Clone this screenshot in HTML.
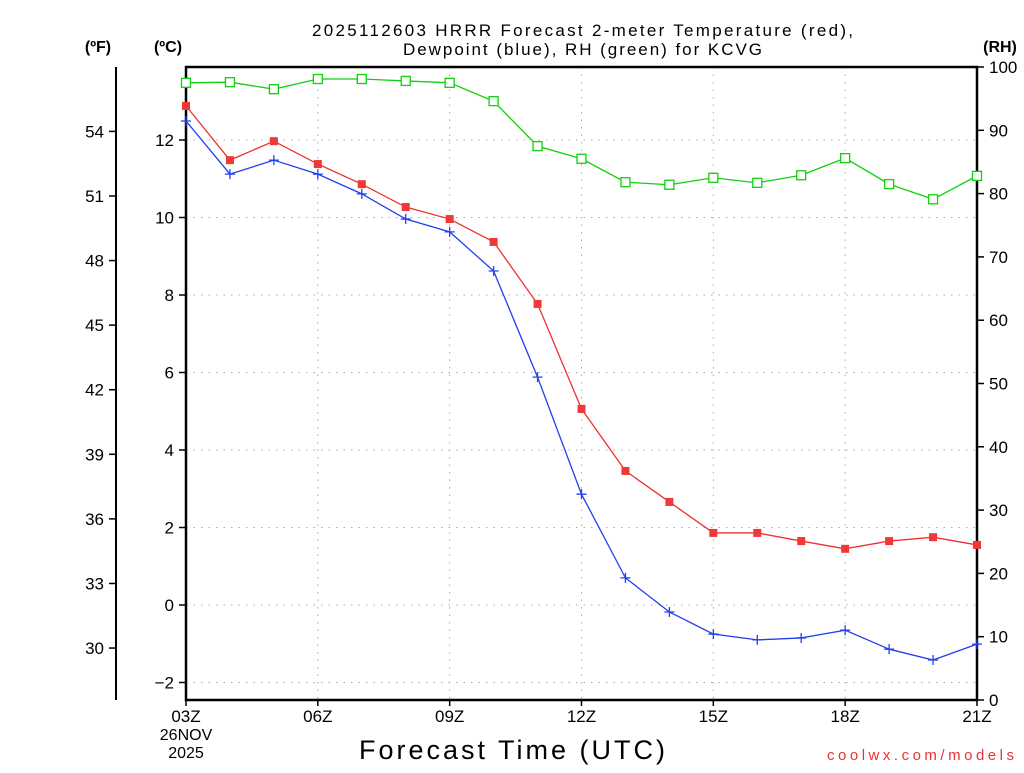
<!DOCTYPE html>
<html><head><meta charset="utf-8"><style>
body{margin:0;background:#fff}
svg text{font-family:"Liberation Sans",sans-serif}
</style></head><body>
<svg id="chart" width="1024" height="768" xmlns="http://www.w3.org/2000/svg">
<g id="grid"></g>
<g id="axes"></g>
<g id="series"></g>
<text x="312" y="36" font-size="17" textLength="541" lengthAdjust="spacing">2025112603 HRRR Forecast 2-meter Temperature (red),</text>
<text x="403" y="55" font-size="17" textLength="359" lengthAdjust="spacing">Dewpoint (blue), RH (green) for KCVG</text>
<text x="98" y="52" font-size="16" font-weight="bold" text-anchor="middle">(ºF)</text>
<text x="168" y="52" font-size="16" font-weight="bold" text-anchor="middle">(ºC)</text>
<text x="1000" y="52" font-size="16" font-weight="bold" text-anchor="middle">(RH)</text>
<text x="359" y="759" font-size="27" textLength="306" lengthAdjust="spacing">Forecast Time (UTC)</text>
<text x="827" y="760" font-size="15" fill="#f03030" textLength="187" lengthAdjust="spacing">coolwx.com/models</text>
<text x="186" y="740" font-size="16" text-anchor="middle">26NOV</text>
<text x="186" y="758" font-size="16" text-anchor="middle">2025</text>
</svg>
<script>
const hours=[3,4,5,6,7,8,9,10,11,12,13,14,15,16,17,18,19,20,21];
const temps=[12.88,11.48,11.97,11.38,10.86,10.27,9.96,9.37,7.77,5.06,3.46,2.66,1.86,1.86,1.65,1.45,1.65,1.75,1.55];
const dewps=[12.49,11.12,11.48,11.12,10.61,9.96,9.63,8.62,5.88,2.86,0.70,-0.18,-0.75,-0.90,-0.85,-0.65,-1.14,-1.42,-1.01];
const rhs=[97.5,97.6,96.5,98.1,98.1,97.8,97.5,94.6,87.5,85.5,81.8,81.4,82.5,81.7,82.9,85.6,81.5,79.1,82.8];
const cTicks=[-2,0,2,4,6,8,10,12];
const fTicks=[30,33,36,39,42,45,48,51,54];
const rhTicks=[0,10,20,30,40,50,60,70,80,90,100];
const xTicks=[3,6,9,12,15,18,21];
const xTickLabels=["03Z","06Z","09Z","12Z","15Z","18Z","21Z"];
const NS="http://www.w3.org/2000/svg";
const L=186,R=977,T=67,B=700;
const xs=h=>L+(h-3)*(R-L)/18;
const yC=c=>605-38.75*c;
const yF=f=>yC((f-32)/1.8);
const yRH=r=>B-(B-T)*r/100;
function mk(tag,attrs,parent,text){const e=document.createElementNS(NS,tag);for(const k in attrs)e.setAttribute(k,attrs[k]);if(text!==undefined)e.textContent=text;document.getElementById(parent).appendChild(e);return e;}
cTicks.forEach(c=>{const y=yC(c);if(y<T+2||y>B-2)return;
const g=mk('line',{x1:L,x2:R,y1:y,y2:y,stroke:'#aaa','stroke-dasharray':'1.5,6'},'grid');

});
xTicks.forEach(h=>{const x=xs(h);if(x<=L+2||x>=R-2)return;
const g=mk('line',{x1:x,x2:x,y1:T,y2:B,stroke:'#aaa','stroke-dasharray':'1.5,6'},'grid');

});
const fr=mk('rect',{x:L,y:T,width:R-L,height:B-T,fill:'none',stroke:'#000','stroke-width':2.5},'axes');


const fl=mk('line',{x1:116,x2:116,y1:T,y2:B,stroke:'#000','stroke-width':2},'axes');


cTicks.forEach(c=>{const y=yC(c);
mk('line',{x1:L-7,x2:L,y1:y,y2:y,stroke:'#000','stroke-width':1.5},'axes');
const t=mk('text',{x:L-12,y:y+6,'font-size':17,'text-anchor':'end'},'axes',c<0?'\u2212'+(-c):String(c));

});
fTicks.forEach(f=>{const y=yF(f);
mk('line',{x1:109,x2:116,y1:y,y2:y,stroke:'#000','stroke-width':1.5},'axes');
const t=mk('text',{x:104,y:y+6,'font-size':17,'text-anchor':'end'},'axes',String(f));

});
rhTicks.forEach(r=>{const y=yRH(r);
mk('line',{x1:R,x2:R+7,y1:y,y2:y,stroke:'#000','stroke-width':1.5},'axes');
const t=mk('text',{x:R+12,y:y+6,'font-size':17,'text-anchor':'start'},'axes',String(r));

});
xTicks.forEach((h,i)=>{const x=xs(h);
mk('line',{x1:x,x2:x,y1:B,y2:B+6,stroke:'#000','stroke-width':1.5},'axes');
const t=mk('text',{x:x,y:B+22,'font-size':17,'text-anchor':'middle'},'axes',xTickLabels[i]);

});
function line(vals,yf,color,name){
const p=mk('polyline',{points:vals.map((v,i)=>xs(hours[i])+','+yf(v)).join(' '),fill:'none',stroke:color,'stroke-width':1.3},'series');

}
line(rhs,yRH,'#10d010','rh-line');
line(temps,yC,'#f03030','temperature-line');
line(dewps,yC,'#2040f0','dewpoint-line');
rhs.forEach((v,i)=>{const m=mk('rect',{x:xs(hours[i])-4.5,y:yRH(v)-4.5,width:9,height:9,fill:'#fff',stroke:'#10d010','stroke-width':1.3},'series');

});
temps.forEach((v,i)=>{const m=mk('rect',{x:xs(hours[i])-4,y:yC(v)-4,width:8,height:8,fill:'#f03838'},'series');

});
dewps.forEach((v,i)=>{const x=xs(hours[i]),y=yC(v);
const m=mk('path',{d:`M${x-5},${y}H${x+5}M${x},${y-5}V${y+5}`,stroke:'#2040f0','stroke-width':1.3},'series');

});
</script>
</body></html>
